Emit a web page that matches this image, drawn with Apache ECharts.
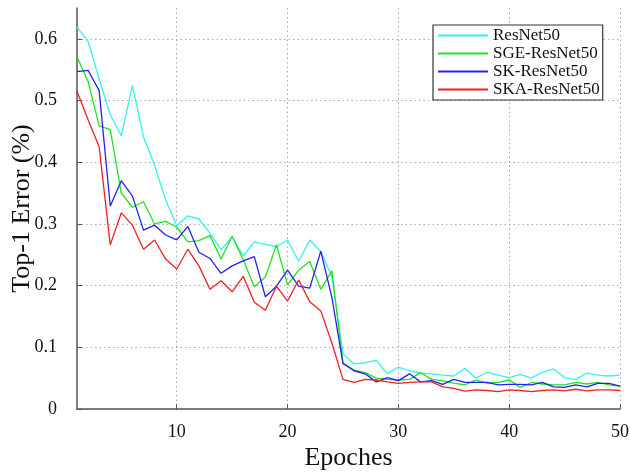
<!DOCTYPE html>
<html>
<head>
<meta charset="utf-8">
<script src="https://cdn.jsdelivr.net/npm/echarts@6/dist/echarts.min.js"></script>
<style>html,body{margin:0;padding:0;background:#fff}#c{width:630px;height:473px}</style>
</head>
<body>
<div id="c"></div>
<script>
var epochs = [];
for (var i = 1; i <= 50; i++) epochs.push(i);
var xTicks = [10, 20, 30, 40, 50];
var yTicks = [0, 0.1, 0.2, 0.3, 0.4, 0.5, 0.6];
var seriesNames = ['ResNet50', 'SGE-ResNet50', 'SK-ResNet50', 'SKA-ResNet50'];
var resnet50 = [0.619,0.596,0.535,0.477,0.443,0.524,0.441,0.395,0.339,0.297,0.313,0.308,0.285,0.258,0.279,0.248,0.271,0.267,0.263,0.274,0.239,0.274,0.255,0.215,0.089,0.073,0.075,0.079,0.057,0.068,0.062,0.058,0.057,0.055,0.0535,0.066,0.050,0.0595,0.055,0.051,0.056,0.050,0.0595,0.065,0.051,0.048,0.058,0.055,0.0535,0.055];
var sgeResnet50 = [0.571,0.531,0.459,0.453,0.350,0.327,0.336,0.300,0.304,0.295,0.271,0.273,0.281,0.243,0.280,0.242,0.198,0.214,0.266,0.201,0.225,0.239,0.194,0.224,0.074,0.063,0.059,0.050,0.048,0.047,0.048,0.059,0.048,0.046,0.042,0.039,0.047,0.042,0.043,0.047,0.035,0.043,0.0405,0.039,0.039,0.043,0.0405,0.043,0.039,0.037];
var skResnet50 = [0.547,0.549,0.516,0.329,0.370,0.345,0.290,0.298,0.282,0.274,0.296,0.254,0.244,0.220,0.232,0.240,0.247,0.182,0.199,0.225,0.199,0.196,0.256,0.181,0.074,0.062,0.057,0.044,0.051,0.046,0.057,0.044,0.046,0.040,0.048,0.043,0.043,0.043,0.039,0.040,0.040,0.039,0.043,0.036,0.035,0.039,0.036,0.0415,0.0415,0.037];
var skaResnet50 = [0.515,0.469,0.425,0.266,0.318,0.298,0.259,0.274,0.243,0.227,0.259,0.232,0.194,0.208,0.190,0.215,0.173,0.160,0.199,0.175,0.209,0.174,0.159,0.107,0.048,0.043,0.048,0.047,0.044,0.0415,0.043,0.044,0.044,0.036,0.0335,0.029,0.031,0.030,0.028,0.031,0.030,0.028,0.030,0.031,0.0295,0.032,0.0295,0.031,0.031,0.030];
var colors = ['#33f2f2', '#22e022', '#2222ee', '#ee2222'];
var allData = [resnet50, sgeResnet50, skResnet50, skaResnet50];

function pairs(arr) { return epochs.map(function (e, i) { return [e, arr[i]]; }); }

var font = 'Liberation Serif, Times New Roman, serif';
var chart = echarts.init(document.getElementById('c'), null, {renderer: 'canvas'});
chart.setOption({
  animation: false,
  backgroundColor: '#fff',
  grid: {left: 77, right: 10, top: 8, bottom: 64, containLabel: false, outerBoundsMode: 'none'},
  legend: {
    orient: 'vertical', left: 433, top: 25,
    data: seriesNames,
    itemWidth: 50, itemHeight: 12, itemGap: 1,
    padding: [2, 3, 2, 4],
    borderColor: '#333', borderWidth: 1.2,
    backgroundColor: '#fff',
    itemStyle: {opacity: 0},
    textStyle: {fontFamily: font, fontSize: 17, color: '#111'}
  },
  xAxis: {
    type: 'value', min: 1, max: 50,
    name: 'Epoches', nameLocation: 'middle', nameGap: 36, nameMoveOverlap: false,
    nameTextStyle: {fontFamily: font, fontSize: 26, color: '#111'},
    axisLine: {lineStyle: {color: '#555', width: 1.5}},
    axisTick: {inside: true, length: 5, customValues: xTicks, lineStyle: {color: '#555'}},
    axisLabel: {customValues: xTicks, fontFamily: font, fontSize: 18, color: '#111', margin: 14},
    splitLine: {show: true, lineStyle: {color: '#aaa', type: [1.5, 3], width: 1}}
  },
  yAxis: {
    type: 'value', min: 0, max: 0.65,
    name: 'Top-1 Error (%)', nameLocation: 'middle', nameGap: 42, nameRotate: 90, nameMoveOverlap: false,
    nameTextStyle: {fontFamily: font, fontSize: 26, color: '#111'},
    axisLine: {show: true, lineStyle: {color: '#555', width: 1.5}},
    axisTick: {show: true, inside: true, length: 5, customValues: yTicks, lineStyle: {color: '#555'}},
    axisLabel: {customValues: yTicks, fontFamily: font, fontSize: 18, color: '#111', margin: 20},
    splitLine: {show: true, lineStyle: {color: '#aaa', type: [1.5, 3], width: 1}}
  },
  series: seriesNames.map(function (n, k) {
    return {
      name: n, type: 'line', data: pairs(allData[k]),
      symbol: 'none', color: colors[k],
      lineStyle: {width: 1.3, color: colors[k]}
    };
  })
});
</script>
</body>
</html>
